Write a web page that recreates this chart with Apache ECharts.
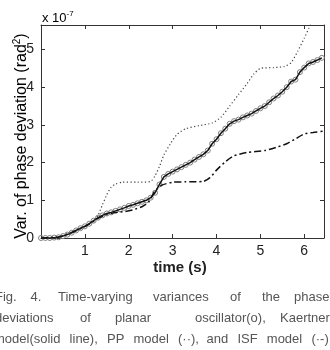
<!DOCTYPE html>
<html>
<head>
<meta charset="utf-8">
<script src="https://cdn.jsdelivr.net/npm/echarts@6/dist/echarts.min.js"></script>
<style>
  html, body { margin: 0; padding: 0; background: #fff; }
  #chart { width: 330px; height: 350px; }
</style>
</head>
<body>
<div id="chart"></div>
<script>
// time samples (s) for the planar oscillator / Kaertner curves
const timeS = [0.0, 0.1, 0.2, 0.3, 0.4, 0.5, 0.6, 0.7, 0.8, 0.9,
  1.0, 1.1, 1.2, 1.3, 1.4, 1.5, 1.6, 1.7, 1.8, 1.9,
  2.0, 2.1, 2.2, 2.3, 2.4, 2.5, 2.6, 2.7, 2.8, 2.9,
  3.0, 3.1, 3.2, 3.3, 3.4, 3.5, 3.6, 3.7, 3.8, 3.9,
  4.0, 4.1, 4.2, 4.3, 4.4, 4.5, 4.6, 4.7, 4.8, 4.9,
  5.0, 5.1, 5.2, 5.3, 5.4, 5.5, 5.6, 5.7, 5.8, 5.9,
  6.0, 6.1, 6.2, 6.3, 6.4];

// variance in units of 1e-7 rad^2
const planarVar = [0.00, 0.00, 0.00, 0.01, 0.02, 0.05, 0.09, 0.14, 0.20, 0.26,
  0.31, 0.38, 0.46, 0.54, 0.60, 0.65, 0.68, 0.72, 0.76, 0.80,
  0.85, 0.88, 0.92, 0.96, 1.00, 1.07, 1.20, 1.42, 1.62, 1.70,
  1.76, 1.82, 1.88, 1.94, 2.00, 2.08, 2.15, 2.22, 2.32, 2.50,
  2.62, 2.78, 2.90, 3.03, 3.10, 3.14, 3.20, 3.25, 3.30, 3.37,
  3.44, 3.50, 3.60, 3.70, 3.78, 3.88, 4.00, 4.15, 4.20, 4.40,
  4.52, 4.63, 4.67, 4.72, 4.78];

const kaertnerVar = [0.00, 0.00, 0.00, 0.01, 0.02, 0.05, 0.09, 0.14, 0.20, 0.26,
  0.31, 0.38, 0.46, 0.54, 0.60, 0.65, 0.68, 0.72, 0.76, 0.80,
  0.85, 0.88, 0.92, 0.96, 1.00, 1.07, 1.20, 1.42, 1.62, 1.70,
  1.76, 1.82, 1.88, 1.94, 2.00, 2.08, 2.15, 2.22, 2.32, 2.50,
  2.62, 2.78, 2.90, 3.03, 3.10, 3.14, 3.20, 3.25, 3.30, 3.37,
  3.44, 3.50, 3.60, 3.70, 3.78, 3.88, 4.00, 4.15, 4.20, 4.40,
  4.52, 4.63, 4.67, 4.72, 4.78];

// PP model (dotted)
const ppT = [0, 0.4, 0.7, 1.0, 1.2, 1.3, 1.4, 1.5, 1.6, 1.7, 1.85, 2.2, 2.5, 2.6, 2.7, 2.8, 2.95,
  3.1, 3.3, 3.6, 3.9, 4.1, 4.3, 4.5, 4.7, 4.85, 5.0, 5.3, 5.55, 5.7, 5.85, 6.0, 6.1, 6.2];
const ppVar = [0, 0.03, 0.15, 0.3, 0.45, 0.6, 0.88, 1.15, 1.35, 1.43, 1.48, 1.48, 1.5, 1.65, 1.9, 2.2, 2.5,
  2.75, 2.9, 2.98, 3.05, 3.2, 3.5, 3.8, 4.1, 4.35, 4.5, 4.52, 4.55, 4.65, 4.95, 5.3, 5.55, 5.8];

// ISF model (dash-dot)
const isfT = [0, 0.4, 0.7, 1.0, 1.3, 1.5, 1.7, 1.9, 2.1, 2.3, 2.45, 2.6, 2.75, 3.0, 3.3, 3.7, 3.85,
  4.0, 4.2, 4.4, 4.7, 5.1, 5.4, 5.6, 5.8, 6.0, 6.2, 6.43];
const isfVar = [0, 0.03, 0.15, 0.3, 0.52, 0.62, 0.68, 0.7, 0.75, 0.83, 0.95, 1.25, 1.4, 1.48, 1.49, 1.5, 1.6,
  1.8, 2.02, 2.18, 2.27, 2.32, 2.42, 2.5, 2.63, 2.76, 2.8, 2.83];

const xTitle = 'time (s)';
const yTitle = 'Var. of phase deviation (rad';
const captionLines = [
  ['Fig.', '4.', 'Time-varying', 'variances', 'of', 'the', 'phase'],
  ['deviations', 'of', 'planar', 'oscillator(o),', 'Kaertner'],
  ['model(solid', 'line),', 'PP', 'model', '(··),', 'and', 'ISF', 'model', '(·-)']
];

const pairs = (t, v) => t.map((x, i) => [x, v[i]]);

const FONT = '"Liberation Sans", Arial, sans-serif';
const AX = '#333';

// caption layout (word left positions, justified text)
const captionX = [
  [-5, 30.5, 58, 153, 230, 262, 294],
  [-5, 80, 115, 195, 280],
  [-6, 69.6, 107, 133.4, 178, 206.6, 237.5, 266.8, 311.4]
];
const captionY = [297, 318, 339];

const chart = echarts.init(document.getElementById('chart'));

const captionGraphics = [];
captionLines.forEach((words, li) => {
  words.forEach((w, wi) => {
    captionGraphics.push({
      type: 'text',
      x: captionX[li][wi],
      y: captionY[li],
      style: {
        text: w,
        fontSize: 13,
        fontFamily: FONT,
        fill: '#555',
        textAlign: 'left',
        textVerticalAlign: 'middle'
      }
    });
  });
});

const valueAxis = (extra) => Object.assign({
  type: 'value',
  axisLine: { show: true, onZero: false, lineStyle: { color: AX, width: 1 } },
  axisTick: { show: true, inside: true, length: 4, lineStyle: { color: AX } },
  splitLine: { show: false },
  axisLabel: { show: false }
}, extra);

const option = {
  animation: false,
  backgroundColor: '#fff',
  grid: { left: 41, right: 6, top: 25, bottom: 112 },
  xAxis: [
    valueAxis({
      min: 0, max: 6.45, interval: 1,
      axisLabel: {
        show: true, color: '#222', fontSize: 14, fontFamily: FONT, margin: 6,
        showMinLabel: false, showMaxLabel: false
      }
    }),
    valueAxis({ min: 0, max: 6.45, interval: 1, position: 'top' })
  ],
  yAxis: [
    valueAxis({
      min: 0, max: 5.65, interval: 1,
      axisLabel: {
        show: true, color: '#222', fontSize: 14, fontFamily: FONT, margin: 7,
        showMaxLabel: false
      }
    }),
    valueAxis({ min: 0, max: 5.65, interval: 1, position: 'right' })
  ],
  series: [
    {
      name: 'planar oscillator',
      type: 'line',
      data: pairs(timeS, planarVar),
      showSymbol: true,
      showAllSymbol: true,
      symbol: 'circle',
      symbolSize: 5,
      itemStyle: { color: 'rgba(0,0,0,0)', borderColor: '#808080', borderWidth: 1 },
      lineStyle: { width: 0 },
      z: 2
    },
    {
      name: 'Kaertner',
      type: 'line',
      data: pairs(timeS, kaertnerVar),
      showSymbol: false,
      lineStyle: { color: '#111', width: 1.5 },
      z: 3
    },
    {
      name: 'PP',
      type: 'line',
      data: pairs(ppT, ppVar),
      showSymbol: false,
      smooth: 0.2,
      lineStyle: { color: '#444', width: 1.2, type: [1.2, 2.4] },
      z: 3
    },
    {
      name: 'ISF',
      type: 'line',
      data: pairs(isfT, isfVar),
      showSymbol: false,
      smooth: 0.2,
      lineStyle: { color: '#111', width: 1.5, type: [7, 3, 2, 3] },
      z: 3
    }
  ],
  graphic: [
    {
      type: 'text',
      x: 42, y: 17,
      style: {
        text: '{a|x 10}{s|-7}',
        textAlign: 'left',
        textVerticalAlign: 'middle',
        rich: {
          a: { fontSize: 13, fontFamily: FONT, color: '#222', verticalAlign: 'bottom', lineHeight: 15 },
          s: { fontSize: 8, fontFamily: FONT, color: '#222', verticalAlign: 'top', lineHeight: 9 }
        }
      }
    },
    {
      type: 'text',
      x: 21, y: 136,
      rotation: Math.PI / 2,
      style: {
        text: '{a|' + yTitle + '}{s|2}{a|)}',
        textAlign: 'center',
        textVerticalAlign: 'middle',
        rich: {
          a: { fontSize: 16, fontFamily: FONT, color: '#222', verticalAlign: 'bottom', lineHeight: 18 },
          s: { fontSize: 10, fontFamily: FONT, color: '#222', verticalAlign: 'top', lineHeight: 11 }
        }
      }
    },
    {
      type: 'text',
      x: 180, y: 268,
      style: {
        text: xTitle,
        fontSize: 15,
        fontWeight: 'bold',
        fontFamily: FONT,
        fill: '#222',
        textAlign: 'center',
        textVerticalAlign: 'middle'
      }
    }
  ].concat(captionGraphics)
};

chart.setOption(option);
</script>
</body>
</html>
